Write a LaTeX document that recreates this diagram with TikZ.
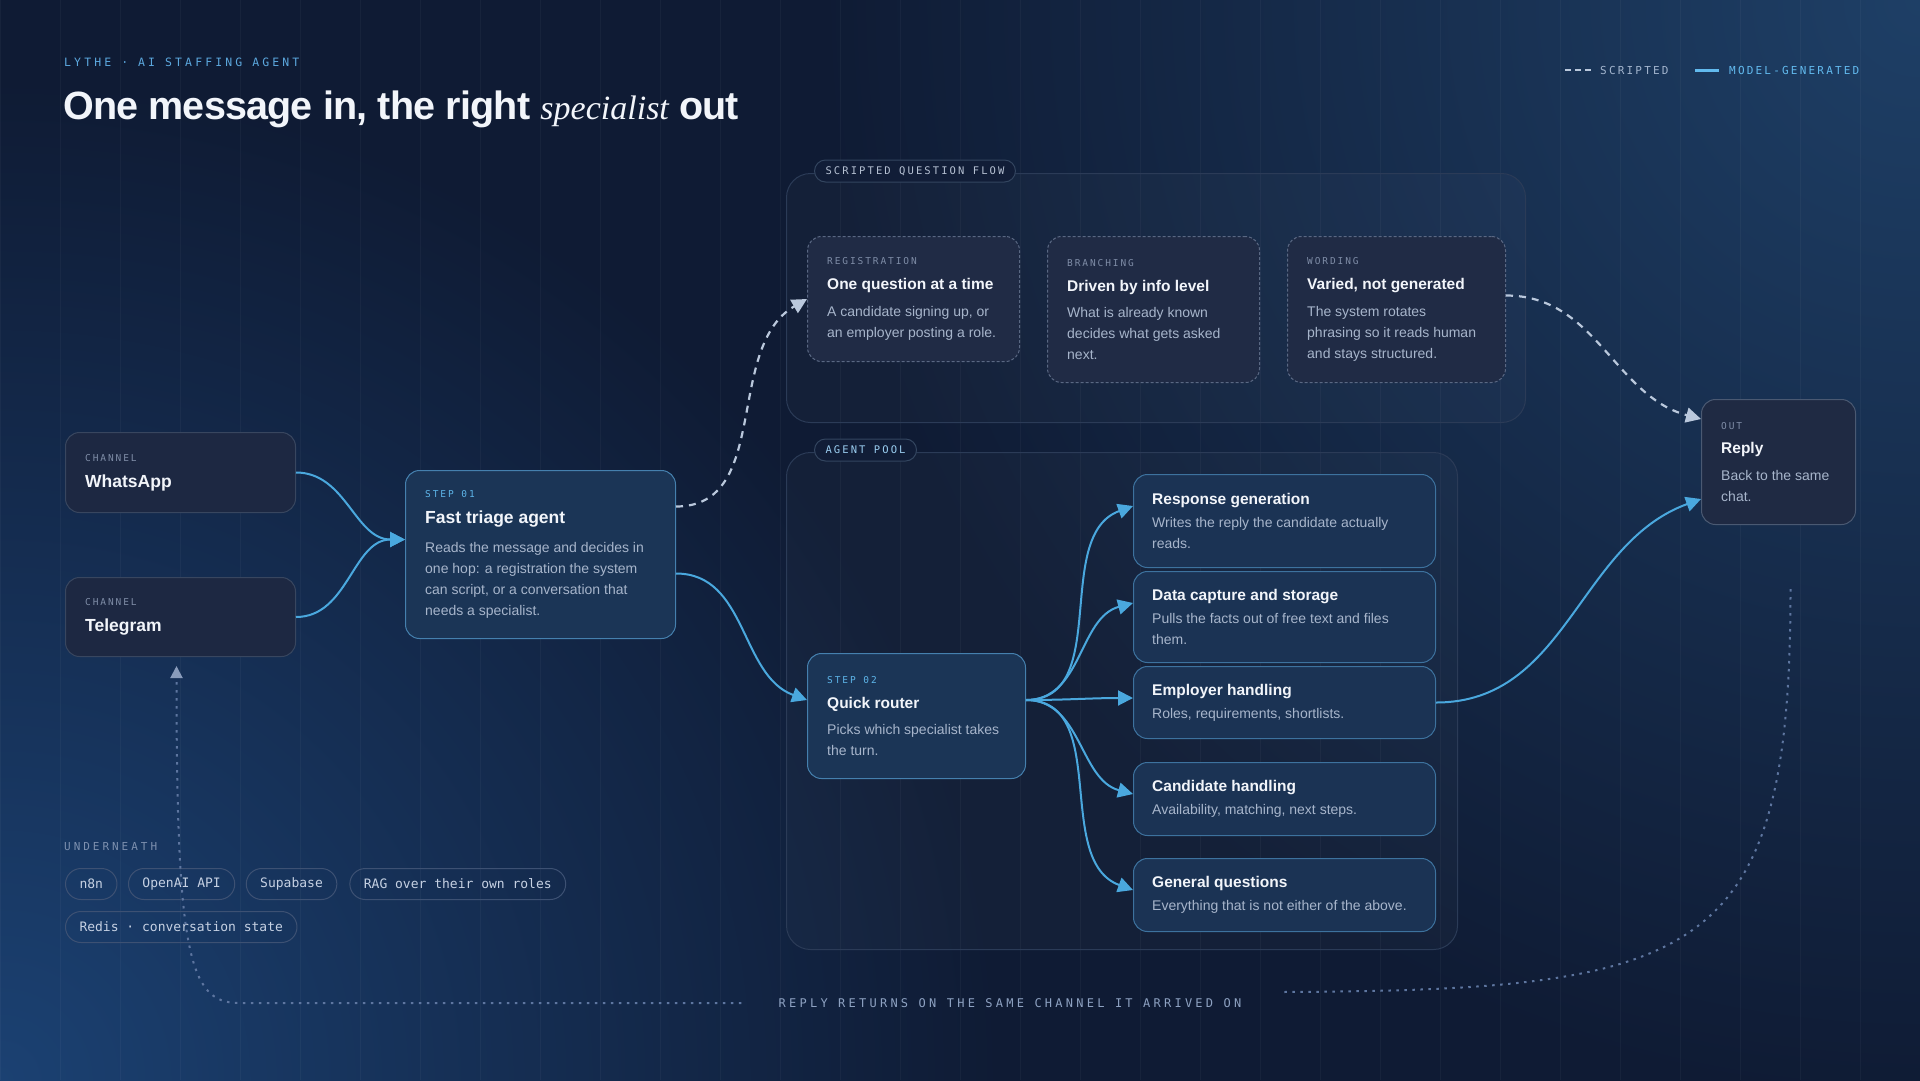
\documentclass[tikz,border=0pt]{standalone}
\usepackage{fontspec}
\setmainfont{Liberation Sans}
\newfontfamily\headfont[LetterSpace=-2]{Liberation Sans}
\newfontfamily\displayserif{Liberation Serif}
\newfontfamily\plainmono{DejaVu Sans Mono}
\newfontfamily\tagmono[LetterSpace=20]{DejaVu Sans Mono}
\newfontfamily\widemono[LetterSpace=27]{DejaVu Sans Mono}
\usetikzlibrary{positioning,calc,arrows.meta}

\definecolor{bg}{HTML}{0F1B34}
\definecolor{glowtr}{HTML}{1E3F66}
\definecolor{glowbl}{HTML}{1B4172}
\definecolor{titletxt}{HTML}{F2F5FA}
\definecolor{bodytxt}{HTML}{A7B5CB}
\definecolor{tagtxt}{HTML}{7F8DA7}
\definecolor{steptxt}{HTML}{5DB4E8}
\definecolor{kicker}{HTML}{5CA8DE}
\definecolor{accent}{HTML}{4AA8DE}
\definecolor{scriptline}{HTML}{BAC8DC}
\definecolor{chanfill}{HTML}{1D2842}
\definecolor{chanedge}{HTML}{38465F}
\definecolor{stepfill}{HTML}{1B3556}
\definecolor{stepedge}{HTML}{4580AE}
\definecolor{agentfill}{HTML}{1B3354}
\definecolor{agentedge}{HTML}{3D729E}
\definecolor{scriptfill}{HTML}{202B45}
\definecolor{scriptedge}{HTML}{5A6883}
\definecolor{outfill}{HTML}{1F2A43}
\definecolor{outedge}{HTML}{4A5972}
\definecolor{groupedge}{HTML}{2B3B57}
\definecolor{tagedge}{HTML}{33455F}
\definecolor{tagfill}{HTML}{111D37}
\definecolor{scripttagtxt}{HTML}{B5C0D2}
\definecolor{pooltagtxt}{HTML}{9ACDF0}
\definecolor{pilledge}{HTML}{3D5173}
\definecolor{pilltxt}{HTML}{C6D1E3}
\definecolor{undertxt}{HTML}{7D90AF}
\definecolor{returnline}{HTML}{5E76A0}
\definecolor{returntxt}{HTML}{8EA2C2}
\definecolor{returnhead}{HTML}{8A9CBB}
\definecolor{legscripttxt}{HTML}{A3B5CE}
\definecolor{legmodeltxt}{HTML}{62BAEE}

\pgfdeclareradialshading{glowTR}{\pgfpoint{0bp}{0bp}}{color(0bp)=(glowtr); color(25bp)=(bg); color(50bp)=(bg)}
\pgfdeclareradialshading{glowBL}{\pgfpoint{0bp}{0bp}}{color(0bp)=(glowbl); color(25bp)=(bg); color(50bp)=(bg)}

% card text pieces
\newcommand{\cardtag}[1]{{\color{tagtxt}\tagmono\fontsize{9.5}{21}\selectfont #1}}
\newcommand{\cardstep}[1]{{\color{steptxt}\tagmono\fontsize{9.5}{21}\selectfont #1}}
\newcommand{\cardhead}[1]{{\color{titletxt}\bfseries\fontsize{15.5}{21}\selectfont #1}}
\newcommand{\cardheadL}[1]{{\color{titletxt}\bfseries\fontsize{17.5}{21}\selectfont #1}}

\begin{document}
\begin{tikzpicture}[x=1pt, y=-1pt,
    card/.style={rounded corners=14pt, line width=1pt, anchor=north west, inner sep=0pt},
    chan/.style={card, fill=chanfill, draw=chanedge},
    stepcard/.style={card, fill=stepfill, draw=stepedge},
    agent/.style={card, fill=agentfill, draw=agentedge},
    scriptcard/.style={card, fill=scriptfill, draw=scriptedge, dash pattern=on 3pt off 2pt},
    outcard/.style={card, fill=outfill, draw=outedge},
    cardtext/.style={anchor=west, align=left, inner sep=0pt, text=bodytxt, font=\fontsize{14}{21}\selectfont},
    group/.style={rounded corners=24pt, line width=1pt, draw=groupedge, fill=white, fill opacity=0.025, anchor=north west, inner sep=0pt},
    grouptag/.style={anchor=west, draw=tagedge, fill=tagfill, rounded corners=11pt, line width=1pt, minimum height=22pt, inner xsep=11pt, inner ysep=0pt, font=\tagmono\fontsize{10.5}{12}\selectfont},
    pill/.style={draw=pilledge, line width=1pt, rounded corners=15.5pt, minimum height=31pt, inner xsep=14pt, inner ysep=0pt, text=pilltxt, font=\plainmono\fontsize{13}{15}\selectfont},
    model/.style={accent, line width=2pt, -{Triangle[length=15pt, width=15pt]}},
    scripted/.style={scriptline, line width=2.2pt, dash pattern=on 7pt off 6pt, -{Triangle[length=15pt, width=15pt]}},
    back/.style={returnline, line width=2pt, dash pattern=on 2.5pt off 5.5pt},
  ]
  \useasboundingbox (0,0) rectangle (1920,1080);
  % backdrop
  \fill[bg] (-4,-4) rectangle (1924,1084);
  \begin{scope}
    \clip (-4,-4) rectangle (1924,1084);
    \shade[shading=glowTR] (1920,0) circle (1100pt);
    \shade[shading=glowBL] (0,1080) circle (1000pt);
    \draw[white, opacity=0.035, line width=1pt, step=60] (0,0) grid (1920,1080);
  \end{scope}

  \node[anchor=west, inner sep=0pt, text=kicker, font=\widemono\fontsize{11.5}{14}\selectfont] (kicker) at (64,62) {LYTHE · AI STAFFING AGENT};
  \node[anchor=base west, inner sep=0pt, text=titletxt, font=\headfont\bfseries\fontsize{39.5}{48}\selectfont] (headline) at (63,119) {One message in, the right {\displayserif\itshape\mdseries\fontsize{34}{48}\selectfont specialist} out};

  % legend
  \node[anchor=west, inner sep=0pt, text=legscripttxt, font=\tagmono\fontsize{11}{14}\selectfont] (legscript) at (1600,70) {SCRIPTED};
  \node[anchor=west, inner sep=0pt, text=legmodeltxt, font=\tagmono\fontsize{11}{14}\selectfont] (legmodel) at (1729,70) {MODEL-GENERATED};
  \draw[scriptline, line width=2pt, dash pattern=on 6pt off 4pt] ([xshift=-35pt]legscript.west) -- ([xshift=-9pt]legscript.west);
  \draw[legmodeltxt, line width=3pt] ([xshift=-34pt]legmodel.west) -- ([xshift=-10pt]legmodel.west);

  % groups
  \node[group, minimum width=739pt, minimum height=249pt] (scriptgrp) at (786,173) {};
  \node[group, minimum width=671pt, minimum height=497pt] (poolgrp) at (786,452) {};
  \node[grouptag, text=scripttagtxt] (scripttag) at (814,171) {SCRIPTED QUESTION FLOW};
  \node[grouptag, text=pooltagtxt] (pooltag) at (814,450) {AGENT POOL};

  % channels
  \node[chan, minimum width=230pt, minimum height=80pt] (whatsapp) at (65,432) {};
  \node[cardtext, right=20pt of whatsapp.west] (whatsapp-t) {\cardtag{CHANNEL}\\[5pt]\cardheadL{WhatsApp}};
  \node[chan, minimum width=230pt, minimum height=79pt] (telegram) at (65,577) {};
  \node[cardtext, right=20pt of telegram.west] (telegram-t) {\cardtag{CHANNEL}\\[5pt]\cardheadL{Telegram}};

  % steps
  \node[stepcard, minimum width=270pt, minimum height=168pt] (triage) at (405,470) {};
  \node[cardtext, right=20pt of triage.west] (triage-t) {\cardstep{STEP 01}\\[5pt]\cardheadL{Fast triage agent}\\[7.5pt]Reads the message and decides in\\one hop: a registration the system\\can script, or a conversation that\\needs a specialist.};
  \node[stepcard, minimum width=218pt, minimum height=125pt] (router) at (807,653) {};
  \node[cardtext, right=20pt of router.west] (router-t) {\cardstep{STEP 02}\\[4pt]\cardhead{Quick router}\\[5pt]Picks which specialist takes\\the turn.};

  % scripted flow
  \node[scriptcard, minimum width=212pt, minimum height=125pt] (reg) at (807,236) {};
  \node[cardtext, right=20pt of reg.west] (reg-t) {\cardtag{REGISTRATION}\\[4pt]\cardhead{One question at a time}\\[5.5pt]A candidate signing up, or\\an employer posting a role.};
  \node[scriptcard, minimum width=212pt, minimum height=146pt] (branch) at (1047,236) {};
  \node[cardtext, right=20pt of branch.west] (branch-t) {\cardtag{BRANCHING}\\[4pt]\cardhead{Driven by info level}\\[5.5pt]What is already known\\decides what gets asked\\next.};
  \node[scriptcard, minimum width=218pt, minimum height=146pt] (wording) at (1287,236) {};
  \node[cardtext, right=20pt of wording.west] (wording-t) {\cardtag{WORDING}\\[4pt]\cardhead{Varied, not generated}\\[5.5pt]The system rotates\\phrasing so it reads human\\and stays structured.};

  % agent pool
  \node[agent, minimum width=302pt, minimum height=93pt] (resp) at (1133,474) {};
  \node[cardtext, right=19pt of resp.west] (resp-t) {\cardhead{Response generation}\\[2pt]Writes the reply the candidate actually\\reads.};
  \node[agent, minimum width=302pt, minimum height=91pt] (data) at (1133,571) {};
  \node[cardtext, right=19pt of data.west] (data-t) {\cardhead{Data capture and storage}\\[2pt]Pulls the facts out of free text and files\\them.};
  \node[agent, minimum width=302pt, minimum height=72pt] (employer) at (1133,666) {};
  \node[cardtext, right=19pt of employer.west] (employer-t) {\cardhead{Employer handling}\\[2pt]Roles, requirements, shortlists.};
  \node[agent, minimum width=302pt, minimum height=73pt] (cand) at (1133,762) {};
  \node[cardtext, right=19pt of cand.west] (cand-t) {\cardhead{Candidate handling}\\[2pt]Availability, matching, next steps.};
  \node[agent, minimum width=302pt, minimum height=73pt] (general) at (1133,858) {};
  \node[cardtext, right=19pt of general.west] (general-t) {\cardhead{General questions}\\[2pt]Everything that is not either of the above.};

  \node[outcard, minimum width=154pt, minimum height=125pt] (reply) at (1701,399) {};
  \node[cardtext, right=20pt of reply.west] (reply-t) {\cardtag{OUT}\\[3pt]\cardhead{Reply}\\[6pt]Back to the same\\chat.};

  % stack
  \node[anchor=west, inner sep=0pt, text=undertxt, font=\widemono\fontsize{11}{14}\selectfont] (under) at (64,847) {UNDERNEATH};
  \node[pill, anchor=north west] (n8n) at (65,868) {n8n};
  \node[pill, right=10.5pt of n8n] (openai) {OpenAI API};
  \node[pill, right=10.5pt of openai] (supabase) {Supabase};
  \node[pill, right=12pt of supabase] (rag) {RAG over their own roles};
  \node[pill, below right=11pt and 0pt of n8n.south west] (redis) {Redis · conversation state};

  \node[inner sep=0pt, text=returntxt, font=\widemono\fontsize{12}{14}\selectfont] (returnlbl) at (1010,1003) {REPLY RETURNS ON THE SAME CHANNEL IT ARRIVED ON};

  % connectors
  \draw[model] (whatsapp.east) to[out=0, in=180] ([yshift=15pt]triage.west);
  \draw[model] (telegram.east) to[out=0, in=180] ([yshift=15pt]triage.west);
  \draw[scripted] ([yshift=48pt]triage.east) to[out=0, in=210] (reg.west);
  \draw[model] ([yshift=-19pt]triage.east) to[out=0, in=160] ([yshift=16pt]router.west);
  \foreach \ag/\ang in {resp/200, data/195, employer/180, cand/165, general/160}
    \draw[model] ([yshift=16pt]router.east) to[out=0, in=\ang] ($(\ag.north west)+(0,32)$);
  \draw[model] (employer.east) to[out=0, in=200] ($(reply.north west)+(0,100)$);
  \draw[scripted] ([yshift=14pt]wording.east) to[out=0, in=165] ($(reply.north west)+(0,20)$);
  % return path
  \draw[back] ($(reply.south)+(12,64)$) .. controls +(0,372) and +(420,-2) .. ([xshift=40pt, yshift=11pt]returnlbl.east);
  \draw[back, -{Triangle[length=12pt, width=12pt, color=returnhead]}] ([xshift=-37pt]returnlbl.west) -- ++(-503,0) .. controls +(-50,0) and +(0,285) .. ($(telegram.south)+(-4,9)$);
\end{tikzpicture}
\end{document}
